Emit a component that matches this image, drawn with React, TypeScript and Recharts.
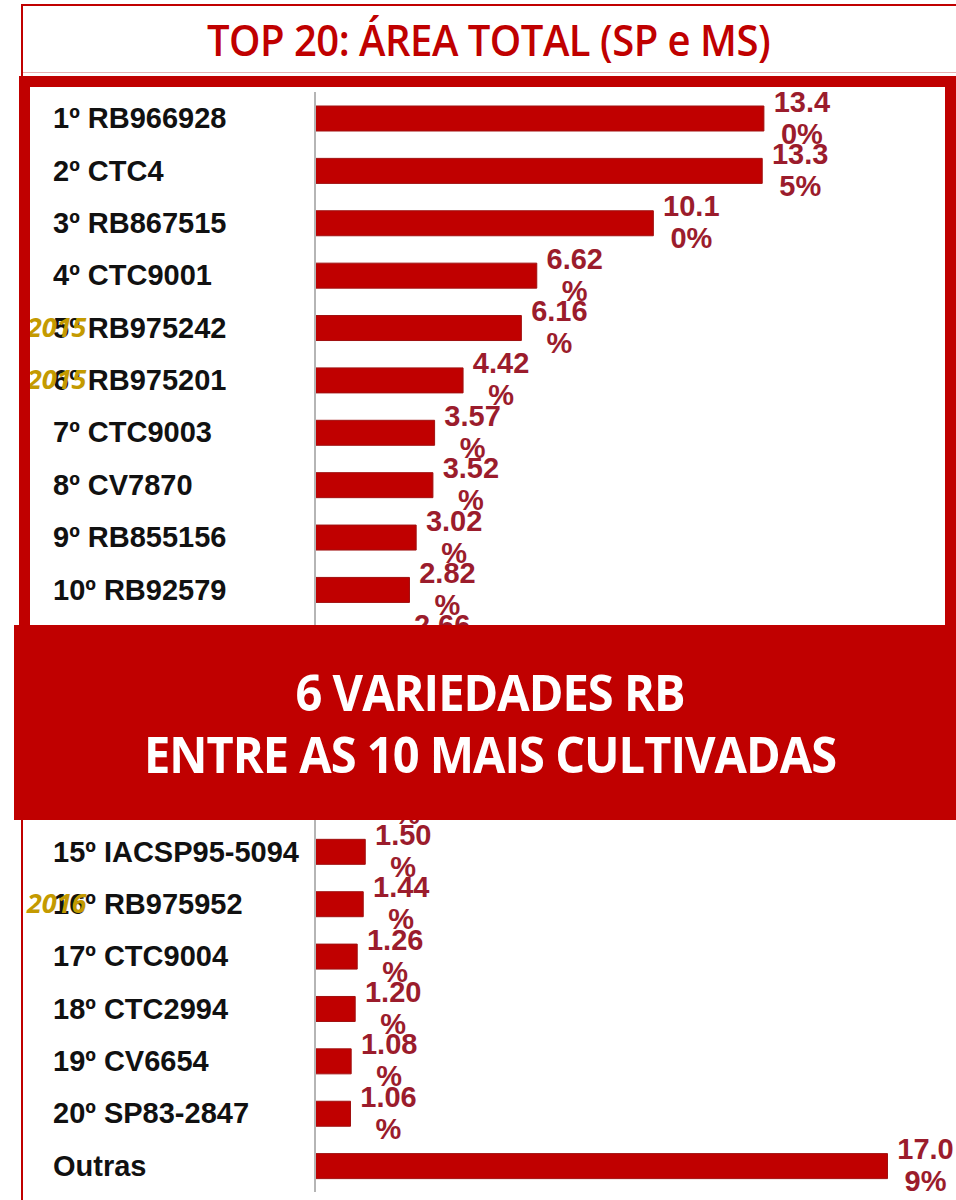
import { Bar, BarChart, LabelList, XAxis, YAxis } from "recharts";

const varieties = [
  "1º RB966928", "2º CTC4", "3º RB867515", "4º CTC9001", "5º RB975242",
  "6º RB975201", "7º CTC9003", "8º CV7870", "9º RB855156", "10º RB92579",
  "11º SP81-3250", "12º RB855453", "13º CTC15", "14º RB935744",
  "15º IACSP95-5094", "16º RB975952", "17º CTC9004", "18º CTC2994",
  "19º CV6654", "20º SP83-2847", "Outras",
];
const areaShare = [
  13.4, 13.35, 10.1, 6.62, 6.16, 4.42, 3.57, 3.52, 3.02, 2.82,
  2.66, 2.28, 1.9, 1.62,
  1.5, 1.44, 1.26, 1.2, 1.08, 1.06, 17.09,
];
const releaseYear = ["", "", "", "", "2015", "2015", "", "", "", "", "", "", "", "", "", "2016", "", "", "", "", ""];

const data = varieties.map((name, i) => ({ name, value: areaShare[i], year: releaseYear[i] }));

const RED = "#c00000";
const LABEL_RED = "#9b1c2c";

function VarietyTick({ y, payload, index }: any) {
  const year = releaseYear[index ?? 0];
  return (
    <g>
      <text x={53} y={y} dy={10} fontFamily="'Liberation Sans', Arial, sans-serif" fontWeight={700} fontSize={29} fill="#111">
        {payload.value}
      </text>
      {year && (
        <text x={27} y={y} dy={9} fontFamily="'Open Sans', sans-serif" fontStyle="italic" fontWeight={700} fontSize={27} fill="#c49a00">
          {year}
        </text>
      )}
    </g>
  );
}

function ShareLabel({ x = 0, y = 0, width = 0, height = 0, value }: any) {
  const s = `${Number(value).toFixed(2)}%`;
  const cx = x + width + 38;
  const cy = y + height / 2;
  return (
    <text fontFamily="'Liberation Sans', Arial, sans-serif" fontWeight={700} fontSize={29} fill={LABEL_RED} textAnchor="middle">
      <tspan x={cx} y={cy - 7}>{s.slice(0, 4)}</tspan>
      <tspan x={cx} y={cy + 25}>{s.slice(4)}</tspan>
    </text>
  );
}

export default function App() {
  return (
    <div style={{ position: "absolute", left: 0, top: 0, width: 956, height: 1200, background: "#fff", overflow: "hidden" }}>
      {/* outer frame + title */}
      <div style={{ position: "absolute", left: 21, top: 4, width: 1000, height: 1300, border: `2px solid ${RED}`, boxSizing: "border-box" }} />
      <div style={{ position: "absolute", left: 23, top: 72, width: 1000, height: 1, background: "#e8b0b0" }} />
      <div style={{ position: "absolute", left: 21, top: 4, width: 935, height: 70, display: "flex", alignItems: "center", justifyContent: "center" }}>
        <span style={{ fontFamily: "'Open Sans', sans-serif", fontWeight: 600, fontSize: 40, color: RED, display: "inline-block", transform: "scaleY(1.08)", letterSpacing: -0.5 }}>
          TOP 20: ÁREA TOTAL (SP e MS)
        </span>
      </div>

      <div style={{ position: "absolute", left: 0, top: 0 }}>
        <BarChart width={956} height={1200} data={data} layout="vertical" margin={{ top: 92, right: 38, bottom: 8, left: 0 }}>
          <XAxis type="number" domain={[0, 18]} hide />
          <YAxis
            type="category"
            dataKey="name"
            width={315}
            tickLine={false}
            axisLine={{ stroke: "#b5b5b5", strokeWidth: 2 }}
            tick={<VarietyTick />}
            interval={0}
          />
          <Bar dataKey="value" fill={RED} stroke="#a01010" strokeWidth={1} barSize={25} isAnimationActive={false}>
            <LabelList dataKey="value" content={<ShareLabel />} />
          </Bar>
        </BarChart>
      </div>

      {/* thick red highlight box */}
      <div style={{ position: "absolute", left: 19, top: 76, width: 937, height: 570, border: `11px solid ${RED}`, boxSizing: "border-box", pointerEvents: "none" }} />

      {/* banner */}
      <div style={{ position: "absolute", left: 14, top: 625, width: 960, height: 195, background: RED }} />
      <div style={{ position: "absolute", left: 24, top: 625, width: 932, height: 195, display: "flex", flexDirection: "column", alignItems: "center", justifyContent: "center", color: "#fff", fontFamily: "'Open Sans', sans-serif", fontWeight: 700, fontSize: 47, lineHeight: "62px" }}>
        <span style={{ display: "inline-block", transform: "scaleY(1.05)", letterSpacing: -1 }}>6 VARIEDADES RB</span>
        <span style={{ display: "inline-block", transform: "scaleY(1.05)", letterSpacing: -1 }}>ENTRE AS 10 MAIS CULTIVADAS</span>
      </div>
    </div>
  );
}
